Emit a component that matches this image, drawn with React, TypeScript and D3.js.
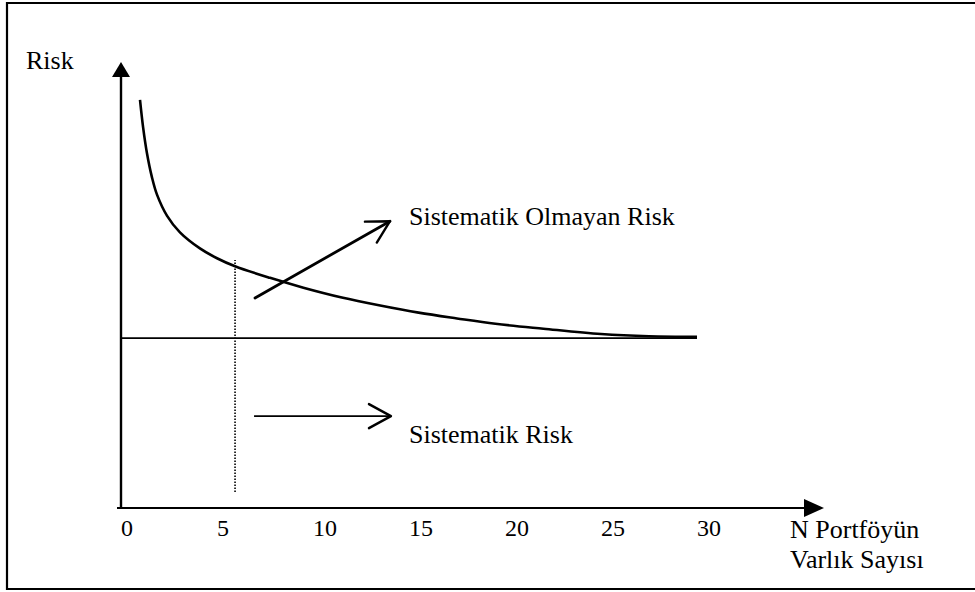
import React from "react";
import * as d3 from "d3";

// Data
const curveN = [0.99, 1.15, 1.35, 1.61, 1.88, 2.4, 3.07, 4.11, 5.0, 5.94, 7.76, 9.5, 11.5, 13.5, 15.5, 17.5, 19.5, 22.0, 25.0, 27.5, 30.0];
const curveRisk = [9.15, 8.54, 7.96, 7.42, 7.02, 6.55, 6.18, 5.82, 5.6, 5.42, 5.16, 4.94, 4.72, 4.54, 4.38, 4.25, 4.13, 4.02, 3.9, 3.85, 3.84];
const systematicRisk = 3.81;
const systematicRange = [0, 30];
const xTicks = [0, 5, 10, 15, 20, 25, 30];
const markerN = 5.94;
const markerRiskRange = [0.36, 5.56];
const unsysArrowN = [6.98, 14.01];
const unsysArrowRisk = [4.71, 6.43];
const sysArrowN = [6.93, 14.06];
const sysArrowRisk = [2.06, 2.06];
const yLabel = "Risk";
const xLabelLines = ["N Portföyün", "Varlık Sayısı"];
const unsysLabel = "Sistematik Olmayan Risk";
const sysLabel = "Sistematik Risk";

const W = 975;
const H = 592;
const FONT = "'Liberation Serif', 'Times New Roman', serif";

export default function App() {
  const x = d3.scaleLinear().domain([0, 30]).range([121, 697]);
  const y = d3.scaleLinear().domain([0, 10]).range([508, 62]);

  const pts: [number, number][] = curveN.map((n, i) => [n, curveRisk[i]]);
  const line = d3
    .line<[number, number]>()
    .x((d) => x(d[0]))
    .y((d) => y(d[1]))
    .curve(d3.curveCatmullRom.alpha(0.5));

  const x0 = x(0);
  const y0 = y(0);
  const xAxisEnd = 804;
  const yAxisTop = y(10);
  const textStyle = { fontFamily: FONT };

  return (
    <svg
      width={W}
      height={H}
      style={{ position: "absolute", left: 0, top: 0, background: "#fff" }}
    >
      <defs>
        <marker
          id="openArrow"
          markerUnits="userSpaceOnUse"
          markerWidth={40}
          markerHeight={40}
          refX={0}
          refY={0}
          viewBox="-30 -20 40 40"
          orient="auto"
        >
          <path d="M-22,-12 L0,0 L-22,12" fill="none" stroke="#000" strokeWidth={2.4} strokeLinecap="round" strokeLinejoin="round" />
        </marker>
      </defs>
      <rect x={0} y={0} width={W} height={H} fill="#fff" />
      {/* frame */}
      <path d={`M${W + 5},3 L7,3 L7,589 L${W + 5},589`} fill="none" stroke="#000" strokeWidth={2.2} />

      {/* y axis */}
      <line x1={x0} y1={y0 + 1} x2={x0} y2={yAxisTop + 12} stroke="#000" strokeWidth={2.4} />
      <path d={`M${x0},${yAxisTop} L${x0 - 9},${yAxisTop + 15} L${x0 + 9},${yAxisTop + 15} Z`} fill="#000" />
      {/* x axis */}
      <line x1={x0 - 4} y1={y0} x2={xAxisEnd + 4} y2={y0} stroke="#000" strokeWidth={2} />
      <path d={`M${xAxisEnd + 20},${y0} L${xAxisEnd},${y0 - 9} L${xAxisEnd},${y0 + 9} Z`} fill="#000" />

      {/* tick labels */}
      {xTicks.map((t) => (
        <text key={t} x={x(t)} y={536} fontSize={24} textAnchor="start" fill="#000" style={textStyle}>
          {t}
        </text>
      ))}

      {/* systematic risk line */}
      <line
        x1={x(systematicRange[0])}
        y1={y(systematicRisk)}
        x2={x(systematicRange[1])}
        y2={y(systematicRisk)}
        stroke="#000"
        strokeWidth={1.8}
      />

      {/* total risk curve */}
      <path d={line(pts) || ""} fill="none" stroke="#000" strokeWidth={2.6} />

      {/* dotted marker */}
      <line
        x1={x(markerN)}
        y1={y(markerRiskRange[0])}
        x2={x(markerN)}
        y2={y(markerRiskRange[1])}
        stroke="#000"
        strokeWidth={1.6}
        strokeDasharray="1.5 1.5"
      />

      {/* arrows */}
      <line
        x1={x(unsysArrowN[0])}
        y1={y(unsysArrowRisk[0])}
        x2={x(unsysArrowN[1])}
        y2={y(unsysArrowRisk[1])}
        stroke="#000"
        strokeWidth={2.8}
        strokeLinecap="round"
        markerEnd="url(#openArrow)"
      />
      <line
        x1={x(sysArrowN[0])}
        y1={y(sysArrowRisk[0])}
        x2={x(sysArrowN[1])}
        y2={y(sysArrowRisk[1])}
        stroke="#000"
        strokeWidth={1.8}
        markerEnd="url(#openArrow)"
      />

      {/* labels */}
      <text x={26} y={69} fontSize={26} fill="#000" style={textStyle}>
        {yLabel}
      </text>
      <text x={409} y={225} fontSize={26} fill="#000" style={textStyle}>
        {unsysLabel}
      </text>
      <text x={409} y={443} fontSize={26} fill="#000" style={textStyle}>
        {sysLabel}
      </text>
      <text x={790} y={538} fontSize={26} fill="#000" style={textStyle}>
        {xLabelLines[0]}
      </text>
      <text x={790} y={568} fontSize={26} fill="#000" style={textStyle}>
        {xLabelLines[1]}
      </text>
    </svg>
  );
}
